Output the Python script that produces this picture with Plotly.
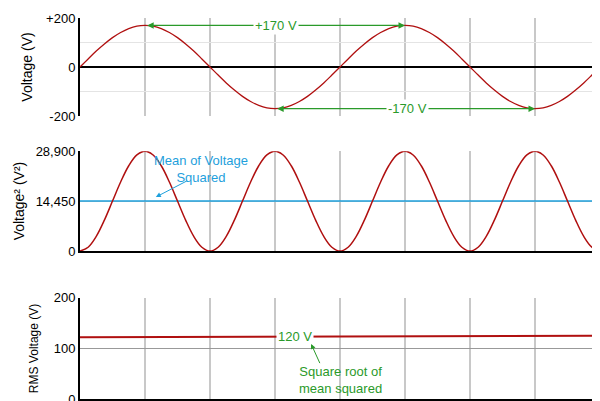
import plotly.graph_objects as go

# x in degrees, sampled every 11.25 deg (two cycles)
phase_deg = [i * 11.25 for i in range(65)]
_q_up = [0, 33, 65, 94, 120, 141, 157, 167, 170]      # quarter wave values
_q_dn = [167, 157, 141, 120, 94, 65, 33, 0]
_half = _q_up + _q_dn
voltage = _half + [-v for v in _half[1:]] + _half[1:] + [-v for v in _half[1:]]
_s_up = [0, 1100, 4230, 8930, 14450, 19970, 24670, 27800, 28900]
_s_dn = [27800, 24670, 19970, 14450, 8930, 4230, 1100, 0]
_shalf = _s_up + _s_dn
voltage_sq = _shalf + _shalf[1:] + _shalf[1:] + _shalf[1:]
mean_x = [0, 720]
mean_sq = [14450, 14450]
rms_x = [0, 720]
rms = [122, 125]

RED = "#b01010"
BLUE = "#1ea0dc"
GREEN = "#2a9a2a"
fig = go.Figure()
fig.add_trace(go.Scatter(x=phase_deg, y=voltage, mode="lines", line=dict(color=RED, width=1.3, shape="spline"), xaxis="x", yaxis="y"))
fig.add_trace(go.Scatter(x=mean_x, y=mean_sq, mode="lines", line=dict(color=BLUE, width=1.5), xaxis="x2", yaxis="y2"))
fig.add_trace(go.Scatter(x=phase_deg, y=voltage_sq, mode="lines", line=dict(color=RED, width=1.5, shape="spline"), xaxis="x2", yaxis="y2"))
fig.add_trace(go.Scatter(x=rms_x, y=rms, mode="lines", line=dict(color=RED, width=2), xaxis="x3", yaxis="y3"))

xcommon = dict(range=[0, 720], tickvals=[90 * i for i in range(1, 9)], showticklabels=False, automargin=False,
               showgrid=True, gridcolor="#c8c8c8", gridwidth=1.5, zeroline=False, ticks="", domain=[0, 1])
font = dict(family="Liberation Sans, Arial", size=13, color="black")
ycommon = dict(automargin=False, showline=True, linecolor="black", linewidth=2, ticks="", zeroline=False)
layout = dict(
    width=600, height=401, margin=dict(l=72, r=8, t=0, b=0), showlegend=False,
    plot_bgcolor="white", paper_bgcolor="white", font=font,
    xaxis=dict(xcommon, anchor="y", showline=False),
    xaxis2=dict(xcommon, anchor="y2", showline=True, linecolor="black", linewidth=2),
    xaxis3=dict(xcommon, anchor="y3", showline=True, linecolor="black", linewidth=2),
    yaxis=dict(ycommon, domain=[0.7307, 0.975], range=[-200, 200], tickvals=[-200, -100, 0, 100, 200],
               ticktext=["-200", "", "0", "", "+200"],
               showgrid=True, gridcolor="#e4e4e4", zeroline=True, zerolinecolor="black", zerolinewidth=1.5,
               title=dict(text="Voltage (V)", font=dict(size=14), standoff=10)),
    yaxis2=dict(ycommon, domain=[0.394, 0.643], range=[0, 28900], tickvals=[0, 14450, 28900], ticktext=["0", "14,450", "28,900"],
                showgrid=True, gridcolor="#c8c8c8",
                title=dict(text="Voltage² (V²)", font=dict(size=14), standoff=8)),
    yaxis3=dict(ycommon, domain=[0.025, 0.277], range=[0, 200], tickvals=[0, 100, 200],
                showgrid=True, gridcolor="#999999", gridwidth=1,
                title=dict(text="RMS Voltage (V)", font=dict(size=12), standoff=12)),
)
fig.update_layout(**layout)

def arrow(xref, yref, x, y, ax, ay, color, w=1.3):
    fig.add_annotation(xref=xref, yref=yref, axref=xref, ayref=yref, x=x, y=y, ax=ax, ay=ay,
                       text="", showarrow=True, arrowhead=2, arrowsize=1, arrowwidth=w, arrowcolor=color)

def label(xref, yref, x, y, text, color, bg=True):
    fig.add_annotation(xref=xref, yref=yref, x=x, y=y, text=text, showarrow=False,
                       font=dict(size=13, color=color), bgcolor="white" if bg else None)

arrow("x", "y", 93, 170, 271, 170, GREEN)
arrow("x", "y", 450, 170, 271, 170, GREEN)
label("x", "y", 271, 170, "+170 V", GREEN)
arrow("x", "y", 273, -170, 454, -170, GREEN)
arrow("x", "y", 630, -170, 454, -170, GREEN)
label("x", "y", 454, -170, "-170 V", GREEN)

arrow("x2", "y2", 105, 15600, 150, 20500, BLUE, 1)
label("x2", "y2", 168, 23800, "Mean of Voltage<br>Squared", BLUE, bg=False)

label("x3", "y3", 298, 124, "120 V", GREEN)
arrow("x3", "y3", 320, 109, 333, 68, GREEN, 1)
label("x3", "y3", 361, 38, "Square root of<br>mean squared", GREEN, bg=False)

fig.write_html("out.html")
